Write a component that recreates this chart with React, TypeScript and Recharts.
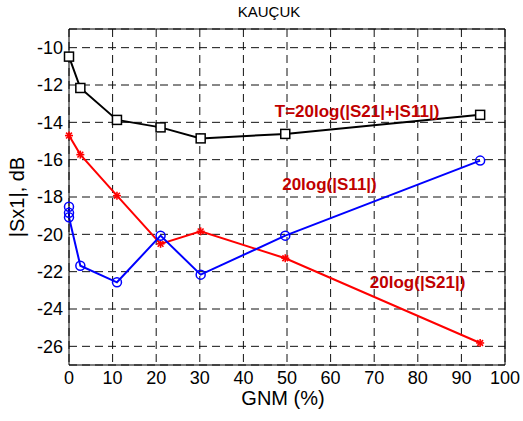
import React from 'react';
import { LineChart, Line, XAxis, YAxis, CartesianGrid, ReferenceDot } from 'recharts';

// GNM content (%) and measured levels (dB)
const gnm = [0, 2.6, 11, 21, 30.2, 49.6, 94.3];
const totalDb = [-10.48, -12.16, -13.87, -14.27, -14.86, -14.62, -13.6];
const s21Db = [-14.71, -15.73, -17.93, -20.51, -19.84, -21.28, -25.82];
const s11Gnm = [0, 0, 0, 2.6, 11, 21, 30.2, 49.6, 94.3];
const s11Db = [-18.52, -18.85, -19.09, -21.68, -22.57, -20.07, -22.16, -20.07, -16.05];

const xTicks = [0, 10, 20, 30, 40, 50, 60, 70, 80, 90, 100];
const yTicks = [-26, -24, -22, -20, -18, -16, -14, -12, -10];

const notes = [
  { x: 47.2, y: -13.74, text: 'T=20log(|S21|+|S11|)' },
  { x: 48.9, y: -17.65, text: '20log(|S11|)' },
  { x: 69.0, y: -22.89, text: '20log(|S21|)' },
];

const toPoints = (xs: number[], ys: number[]) => xs.map((x, i) => ({ x, y: ys[i] }));

const FONT = '"Liberation Sans", Arial, sans-serif';
const NOTE_RED = '#c00000';

const Square = (props: any) => {
  const { cx, cy } = props;
  if (cx == null || cy == null) return null;
  return <rect x={cx - 4.5} y={cy - 4.5} width={9} height={9} fill="#fff" stroke="#000" strokeWidth={1.5} />;
};

const Ring = (props: any) => {
  const { cx, cy } = props;
  if (cx == null || cy == null) return null;
  return <circle cx={cx} cy={cy} r={4.5} fill="none" stroke="#0000ff" strokeWidth={1.5} />;
};

const Star = (props: any) => {
  const { cx, cy } = props;
  if (cx == null || cy == null) return null;
  const r = 4;
  const d = 2.9;
  return (
    <g stroke="#ff0000" strokeWidth={1.6}>
      <line x1={cx - r} y1={cy} x2={cx + r} y2={cy} />
      <line x1={cx} y1={cy - r} x2={cx} y2={cy + r} />
      <line x1={cx - d} y1={cy - d} x2={cx + d} y2={cy + d} />
      <line x1={cx - d} y1={cy + d} x2={cx + d} y2={cy - d} />
    </g>
  );
};

const NoTick = () => <g />;

const YTitle = (props: any) => {
  const vb = props.viewBox;
  const x = vb.x + 17;
  const y = vb.y + vb.height / 2;
  return (
    <text x={x} y={y} transform={`rotate(-90, ${x}, ${y})`} textAnchor="middle" dominantBaseline="central"
      fontFamily={FONT} fontSize={20} fill="#000">
      |Sx1|, dB
    </text>
  );
};

const XTitle = (props: any) => {
  const vb = props.viewBox;
  return (
    <text x={vb.x + vb.width / 2 - 4} y={vb.y + 40} textAnchor="middle" fontFamily={FONT} fontSize={20} fill="#000">
      GNM (%)
    </text>
  );
};

const noteLabel = (text: string) => (props: any) => {
  const vb = props.viewBox;
  return (
    <text x={vb.x} y={vb.y} fontFamily={FONT} fontSize={17} fontWeight="bold" fill={NOTE_RED}>
      {text}
    </text>
  );
};

export default function App() {
  const tickStyle = { fontFamily: FONT, fontSize: 18, fill: '#000' };
  return (
    <div style={{ position: 'absolute', left: 0, top: 0, width: 523, height: 421, background: '#fff' }}>
      <svg width={523} height={30} style={{ position: 'absolute', left: 0, top: 0 }}>
        <text x={269} y={17} textAnchor="middle" fontFamily={FONT} fontSize={15} fill="#000">KAUÇUK</text>
      </svg>
      <LineChart width={523} height={421} margin={{ top: 29, right: 18, bottom: 0, left: 0 }}>
        <CartesianGrid stroke="#111" strokeDasharray="8 5" />
        <XAxis
          xAxisId={0}
          dataKey="x"
          type="number"
          domain={[0, 100]}
          ticks={xTicks}
          height={56}
          tickLine={false}
          tickSize={0}
          tickMargin={6}
          tick={tickStyle}
          axisLine={{ stroke: '#000' }}
          label={<XTitle />}
        />
        <XAxis xAxisId="top" orientation="top" mirror type="number" domain={[0, 100]} ticks={xTicks}
          tick={NoTick} tickSize={5} tickLine={{ stroke: '#000' }} axisLine={{ stroke: '#000' }} />
        <XAxis xAxisId="bottomIn" orientation="bottom" mirror type="number" domain={[0, 100]} ticks={xTicks}
          tick={NoTick} tickSize={5} tickLine={{ stroke: '#000' }} axisLine={false} />
        <YAxis
          yAxisId={0}
          type="number"
          domain={[-27, -9]}
          ticks={yTicks}
          width={69}
          tickLine={false}
          tickSize={0}
          tickMargin={6}
          tick={tickStyle}
          axisLine={{ stroke: '#000' }}
          label={<YTitle />}
        />
        <YAxis yAxisId="right" orientation="right" mirror type="number" domain={[-27, -9]} ticks={yTicks}
          tick={NoTick} tickSize={5} tickLine={{ stroke: '#000' }} axisLine={{ stroke: '#000' }} />
        <YAxis yAxisId="leftIn" orientation="left" mirror type="number" domain={[-27, -9]} ticks={yTicks}
          tick={NoTick} tickSize={5} tickLine={{ stroke: '#000' }} axisLine={false} />
        <Line data={toPoints(gnm, totalDb)} dataKey="y" stroke="#000" strokeWidth={2} dot={<Square />}
          activeDot={false} isAnimationActive={false} />
        <Line data={toPoints(gnm, s21Db)} dataKey="y" stroke="#ff0000" strokeWidth={2} dot={<Star />}
          activeDot={false} isAnimationActive={false} />
        <Line data={toPoints(s11Gnm, s11Db)} dataKey="y" stroke="#0000ff" strokeWidth={2} dot={<Ring />}
          activeDot={false} isAnimationActive={false} />
        {notes.map((n) => (
          <ReferenceDot key={n.text} x={n.x} y={n.y} r={0} fill="none" stroke="none" label={noteLabel(n.text)} />
        ))}
      </LineChart>
    </div>
  );
}
